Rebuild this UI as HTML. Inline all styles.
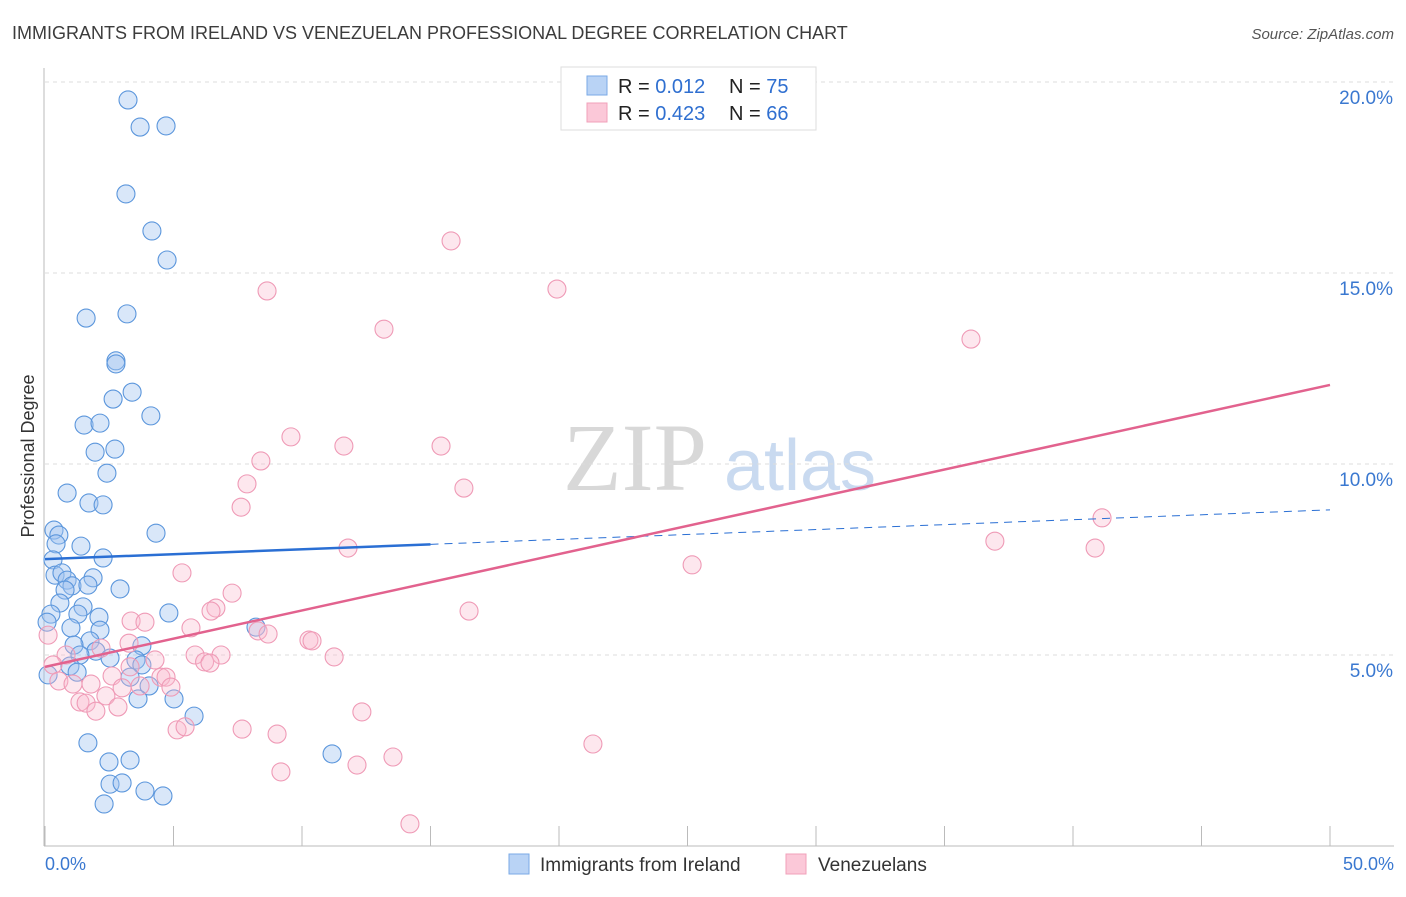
<!DOCTYPE html>
<html><head><meta charset="utf-8"><style>
body{margin:0;background:#fff;font-family:"Liberation Sans",sans-serif}
svg text{font-family:"Liberation Sans",sans-serif}
</style></head><body>
<svg id="chart" width="1406" height="892" viewBox="0 0 1406 892" xmlns="http://www.w3.org/2000/svg">
<text x="12" y="39" font-size="18" fill="#3c3c3c">IMMIGRANTS FROM IRELAND VS VENEZUELAN PROFESSIONAL DEGREE CORRELATION CHART</text>
<text x="1394" y="39" font-size="15" fill="#555" text-anchor="end" font-style="italic">Source: ZipAtlas.com</text>
<g>
<text x="635" y="490" font-size="96" fill="#d8d8d8" font-family="Liberation Serif" text-anchor="middle" style="font-family:'Liberation Serif',serif">ZIP</text>
<text x="800" y="490" font-size="72" fill="#c9daf0" text-anchor="middle">atlas</text>
</g>
<g id="grid"></g>
<g id="axes"></g>
<g id="marks"></g>
<g id="lines"></g>
<text transform="translate(34,456) rotate(-90)" font-size="18" fill="#333" text-anchor="middle">Professional Degree</text>
<text x="45" y="870" font-size="18" fill="#3a78d0">0.0%</text>
<text x="1394" y="870" font-size="18" fill="#3a78d0" text-anchor="end">50.0%</text>
<g>
<rect x="561" y="67" width="255" height="63" fill="#fff" stroke="#ddd"/>
<rect x="587" y="76" width="20" height="19" fill="#b9d3f5" stroke="#7aaae6"/>
<rect x="587" y="103" width="20" height="19" fill="#fbc8d8" stroke="#f0a0ba"/>
<text x="618" y="93" font-size="20" fill="#222">R = <tspan fill="#2f6fd0">0.012</tspan></text>
<text x="729" y="93" font-size="20" fill="#222">N = <tspan fill="#2f6fd0">75</tspan></text>
<text x="618" y="120" font-size="20" fill="#222">R = <tspan fill="#2f6fd0">0.423</tspan></text>
<text x="729" y="120" font-size="20" fill="#222">N = <tspan fill="#2f6fd0">66</tspan></text>
</g>
<g>
<rect x="509" y="854" width="20" height="20" fill="#b9d3f5" stroke="#7aaae6"/>
<text x="540" y="871" font-size="19" fill="#333">Immigrants from Ireland</text>
<rect x="786" y="854" width="20" height="20" fill="#fbc8d8" stroke="#f0a0ba"/>
<text x="818" y="871" font-size="19" fill="#333">Venezuelans</text>
</g>
</svg>
<script>
const yTicks=[5,10,15,20];
const yTickLabels=["5.0%","10.0%","15.0%","20.0%"];
const xTicks=[0,5,10,15,20,25,30,35,40,45,50];
const blueX=[3.23,3.70,4.71,3.15,4.16,4.75,1.60,3.19,2.76,2.76,3.39,2.65,4.12,1.52,2.14,1.95,2.72,2.41,0.86,1.71,2.26,4.32,0.35,0.54,0.43,1.40,2.26,0.31,0.39,0.66,1.87,0.86,1.05,1.67,0.78,2.92,0.58,1.48,0.23,1.28,2.10,4.82,0.08,1.01,2.14,8.21,1.75,1.13,3.77,1.98,1.36,2.53,3.54,3.77,0.97,1.25,0.12,3.31,4.05,3.62,5.02,5.80,11.17,1.67,2.49,3.31,2.53,3.00,3.89,4.59,2.30];
const blueY=[19.53,18.82,18.85,17.07,16.10,15.34,13.82,13.93,12.70,12.62,11.88,11.70,11.26,11.02,11.07,10.31,10.39,9.76,9.24,8.98,8.93,8.19,8.27,8.14,7.91,7.85,7.54,7.49,7.09,7.15,7.02,6.96,6.81,6.83,6.70,6.73,6.36,6.26,6.07,6.07,5.99,6.10,5.86,5.71,5.65,5.73,5.37,5.26,5.24,5.10,5.00,4.92,4.87,4.74,4.71,4.55,4.48,4.42,4.19,3.85,3.85,3.40,2.41,2.70,2.20,2.25,1.62,1.65,1.44,1.31,1.10];
const pinkX=[15.80,8.64,19.92,13.19,36.03,9.57,11.63,15.41,8.40,16.30,7.86,7.63,41.13,11.79,36.96,40.86,25.18,5.33,7.28,6.65,6.46,16.50,3.35,3.89,5.68,8.29,8.68,10.27,10.39,3.27,2.18,0.82,5.84,6.85,4.28,11.25,6.21,6.42,3.31,0.31,2.61,4.51,4.71,0.54,1.09,1.79,3.00,4.90,3.70,2.37,1.36,1.60,2.84,1.98,12.33,5.14,5.45,7.67,9.03,21.32,13.54,12.14,9.18,14.20,0.12];
const pinkY=[15.84,14.53,14.58,13.53,13.27,10.71,10.47,10.47,10.08,9.37,9.48,8.87,8.59,7.80,7.98,7.80,7.36,7.15,6.62,6.23,6.15,6.15,5.89,5.86,5.71,5.63,5.55,5.39,5.37,5.31,5.18,5.00,5.00,5.00,4.87,4.95,4.82,4.79,4.69,4.74,4.45,4.42,4.42,4.32,4.24,4.24,4.14,4.16,4.19,3.93,3.77,3.74,3.64,3.53,3.51,3.04,3.12,3.06,2.93,2.67,2.33,2.12,1.94,0.58,5.52];
const blueTrend=[7.51,8.80];
const pinkTrend=[4.69,12.07];
const blueSolidEnd=15;

const NS="http://www.w3.org/2000/svg";
const X=v=>45+v*25.7;
const Y=v=>846-v*38.2;
function mk(tag,attrs,parent){const e=document.createElementNS(NS,tag);for(const k in attrs)e.setAttribute(k,attrs[k]);document.getElementById(parent).appendChild(e);return e;}
yTicks.forEach((t,i)=>{
  const g=mk('line',{x1:45,x2:1394,y1:Y(t),y2:Y(t),stroke:'#ddd','stroke-dasharray':'4,4'},'grid');
  
  
  const l=mk('text',{x:1393,y:Y(t)+22,'font-size':19,fill:'#3a78d0','text-anchor':'end'},'grid');
  l.textContent=yTickLabels[i];
  
  
});
const ax=mk('line',{x1:44,x2:44,y1:68,y2:846,stroke:'#bbb'},'axes');


const bx=mk('line',{x1:44,x2:1394,y1:846,y2:846,stroke:'#bbb'},'axes');


xTicks.forEach(t=>{
  const k=mk('line',{x1:X(t),x2:X(t),y1:826,y2:846,stroke:'#bbb'},'axes');
  
  
});
blueX.forEach((x,i)=>{
  const c=mk('circle',{cx:X(x),cy:Y(blueY[i]),r:9,fill:'rgba(160,196,240,0.4)',stroke:'#5b96dc','stroke-width':1.1},'marks');
  
  
});
pinkX.forEach((x,i)=>{
  const c=mk('circle',{cx:X(x),cy:Y(pinkY[i]),r:9,fill:'rgba(248,185,205,0.35)',stroke:'#ef9ab6','stroke-width':1.1},'marks');
  
  
});
const bAt=x=>blueTrend[0]+(blueTrend[1]-blueTrend[0])*x/50;
const b1=mk('line',{x1:X(0),y1:Y(bAt(0)),x2:X(blueSolidEnd),y2:Y(bAt(blueSolidEnd)),stroke:'#2a6fd4','stroke-width':2.5},'lines');


const b2=mk('line',{x1:X(blueSolidEnd),y1:Y(bAt(blueSolidEnd)),x2:X(50),y2:Y(bAt(50)),stroke:'#2a6fd4','stroke-width':1,'stroke-dasharray':'8,6'},'lines');


const p1=mk('line',{x1:X(0),y1:Y(pinkTrend[0]),x2:X(50),y2:Y(pinkTrend[1]),stroke:'#e2628e','stroke-width':2.5},'lines');


</script>
</body></html>
